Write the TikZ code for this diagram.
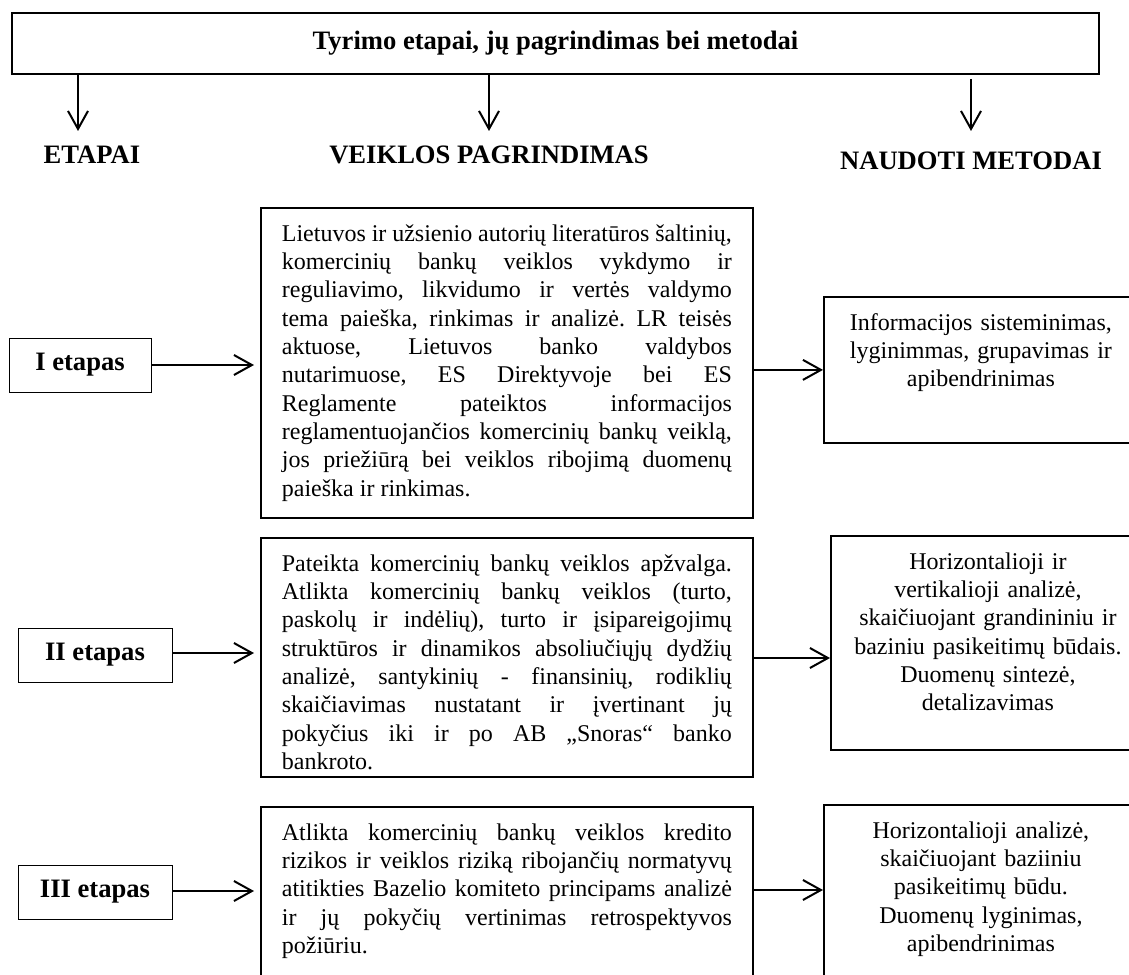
\documentclass[tikz,border=0pt]{standalone}
\usepackage{fontspec}
\setmainfont{Liberation Serif}
\usetikzlibrary{arrows.meta,positioning}
\frenchspacing
\hyphenpenalty=10000
\tolerance=10000
\hbadness=10000

\tikzset{
  titlebox/.style={draw, line width=0.9pt, minimum width=543.5pt, minimum height=30.5pt,
    font=\bfseries\fontsize{13.3}{15}\selectfont},
  headtext/.style={font=\bfseries\fontsize{13.3}{15}\selectfont},
  stagebox/.style={draw, line width=0.5pt, minimum height=27pt,
    font=\bfseries\fontsize{13.3}{15}\selectfont},
  textbox/.style={draw, line width=0.9pt, anchor=north west, inner ysep=4pt, text height=12.7pt,
    font=\fontsize{12}{14.15}\selectfont},
  workbox/.style={textbox, text width=225pt, inner xsep=10.5pt, align=justify},
  methodbox/.style={textbox, text width=142pt, inner xsep=7.5pt, align=center}
}

\begin{document}
\begin{tikzpicture}[x=0.5pt, y=-0.5pt, >={Straight Barb[length=9pt,width=10pt]}, line width=1pt]
  \clip (0,0) rectangle (1129,974);

  % antraste ir stulpeliai
  \node[titlebox] (title) at (555.5,43.5) {Tyrimo etapai, jų pagrindimas bei metodai};
  \node[headtext] (hEtapai) at (92,155) {ETAPAI};
  \node[headtext] (hVeikla) at (489,155) {VEIKLOS PAGRINDIMAS};
  \node[headtext] (hMetodai) at (971,161) {NAUDOTI METODAI};
  \coordinate (aEt) at (78,131);
  \coordinate (aVe) at (489,131);
  \coordinate (aMs) at (971,79);
  \coordinate (aMe) at (971,131);
  \draw[->] (title.south -| aEt) -- (aEt);
  \draw[->] (title.south -| aVe) -- (aVe);
  \draw[->] (aMs) -- (aMe);

  % etapai
  \node[stagebox, minimum width=71pt] (etapas1) at (80,365) {I etapas};
  \node[stagebox, minimum width=77pt] (etapas2) at (95,655) {II etapas};
  \node[stagebox, minimum width=77pt] (etapas3) at (95,892) {III etapas};

  % veiklos pagrindimas
  \node[workbox, text depth=134.3pt] (veikla1) at (260,207) {Lietuvos ir užsienio autorių literatūros šaltinių,\linebreak
    komercinių bankų veiklos vykdymo ir\linebreak
    reguliavimo, likvidumo ir vertės valdymo\linebreak
    tema paieška, rinkimas ir analizė. LR teisės\linebreak
    aktuose, Lietuvos banko valdybos\linebreak
    nutarimuose, ES Direktyvoje bei ES\linebreak
    Reglamente pateiktos informacijos\linebreak
    reglamentuojančios komercinių bankų veiklą,\linebreak
    jos priežiūrą bei veiklos ribojimą duomenų\linebreak
    paieška ir rinkimas.};
  \node[workbox, text depth=98.8pt] (veikla2) at (260,537) {Pateikta komercinių bankų veiklos apžvalga.\linebreak
    Atlikta komercinių bankų veiklos (turto,\linebreak
    paskolų ir indėlių), turto ir įsipareigojimų\linebreak
    struktūros ir dinamikos absoliučiųjų dydžių\linebreak
    analizė, santykinių - finansinių, rodiklių\linebreak
    skaičiavimas nustatant ir įvertinant jų\linebreak
    pokyčius iki ir po AB „Snoras“ banko\linebreak
    bankroto.};
  \node[workbox, text depth=75pt] (veikla3) at (260,806) {Atlikta komercinių bankų veiklos kredito\linebreak
    rizikos ir veiklos riziką ribojančių normatyvų\linebreak
    atitikties Bazelio komiteto principams analizė\linebreak
    ir jų pokyčių vertinimas retrospektyvos\linebreak
    požiūriu.};

  % naudoti metodai
  \node[methodbox, text depth=52.3pt] (metodai1) at (823,296) {Informacijos sisteminimas,\\
    lyginimmas, grupavimas ir\\ apibendrinimas};
  \node[methodbox, text depth=86.3pt] (metodai2) at (830,535) {Horizontalioji ir\\
    vertikalioji analizė,\\ skaičiuojant grandininiu ir\\ baziniu pasikeitimų būdais.\\
    Duomenų sintezė,\\ detalizavimas};
  \node[methodbox, text depth=75pt] (metodai3) at (823,804) {Horizontalioji analizė,\\
    skaičiuojant baziiniu\\ pasikeitimų būdu.\\ Duomenų lyginimas,\\ apibendrinimas};

  % rodykles
  \draw[->, shorten >=3pt] (etapas1.east) -- (etapas1.east -| veikla1.west);
  \draw[->, shorten >=3pt] (etapas2.east |- 0,653) -- (veikla2.west |- 0,653);
  \draw[->, shorten >=3pt] (etapas3.east |- 0,891) -- (veikla3.west |- 0,891);
  \draw[->] (veikla1.east |- metodai1.west) -- (metodai1.west);
  \draw[->] (veikla2.east |- 0,658) -- (metodai2.west |- 0,658);
  \draw[->] (veikla3.east |- 0,890) -- (metodai3.west |- 0,890);
\end{tikzpicture}
\end{document}
